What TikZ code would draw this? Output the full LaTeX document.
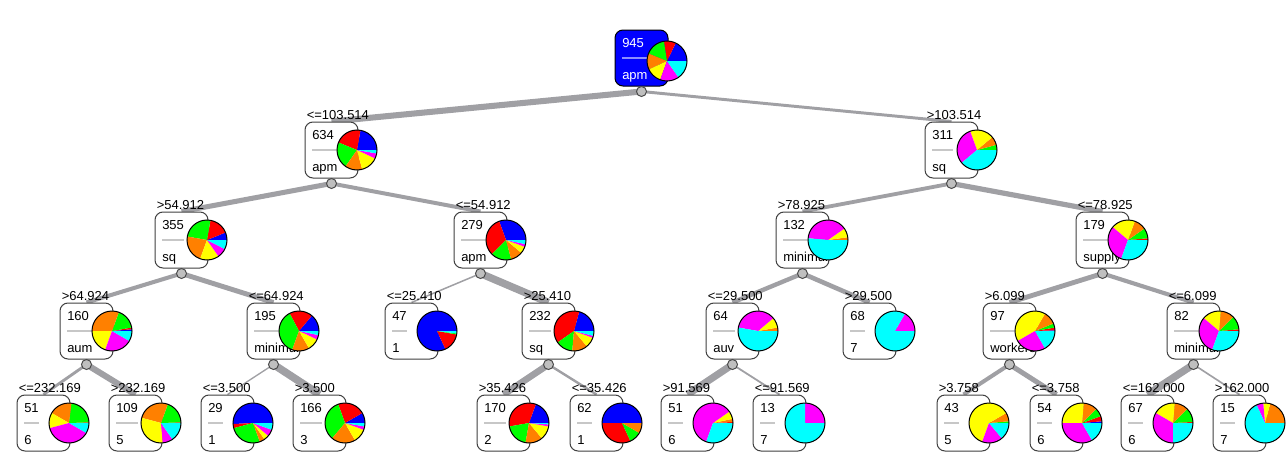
\documentclass[tikz,border=0pt]{standalone}
\usepackage{fontspec}
\setmainfont{Liberation Sans}
\usetikzlibrary{calc}
\pgfdeclarelayer{background}
\pgfsetlayers{background,main}
\definecolor{c1}{RGB}{0,0,255}
\definecolor{c2}{RGB}{255,0,0}
\definecolor{c3}{RGB}{0,255,0}
\definecolor{c4}{RGB}{255,128,0}
\definecolor{c5}{RGB}{255,255,0}
\definecolor{c6}{RGB}{255,0,255}
\definecolor{c7}{RGB}{0,255,255}
\definecolor{edgegray}{RGB}{160,160,164}
\tikzset{
 box/.style={draw=black!75, line width=0.75pt, rounded corners=6pt, fill=white, minimum width=39.75pt, minimum height=42pt, inner sep=0pt},
 rootbox/.style={box, fill=c1, draw=black},
 txt/.style={inner sep=0pt, font=\fontsize{9.75pt}{11pt}\selectfont, text=black, anchor=base west},
 sepline/.style={draw=black!22, line width=1.5pt},
 pieedge/.style={draw=black, line width=0.75pt},
 knot/.style={circle, draw=black!70, fill=black!25, line width=0.75pt, minimum size=7.5pt, inner sep=0pt},
 edgeline/.style={draw=edgegray}
}
\newcommand{\piedy}{28}
% #1 box style, #2 name, #3 left, #4 top, #5 count, #6 label, #7 pie
\newcommand{\tnode}[7][box]{%
 \node[#1] (#2) at ({#3+26.5},{-#4-28}) {};
 \begin{scope}
  \clip[rounded corners=6pt] (#2.south west) rectangle (#2.north east);
  \node[txt] (#2c) at ({#3+7},{-#4-17}) {#5};
  \node[txt] (#2l) at ({#3+7},{-#4-49}) {#6};
  \draw[sepline] let \p1=(#2c.east), \p2=(#2l.east), \p3=(#2.center) in (#2c.west |- #2.center) -- ({max(\x1,\x2)},\y3);
 \end{scope}
 \coordinate (#2p) at ({#3+52},{-#4-\piedy});
 \foreach \a/\b/\c in {#7} {\fill[\c] (#2p) -- ++(\a:15pt) arc[start angle=\a, end angle=\b, radius=15pt] -- cycle;}
 \draw[pieedge] (#2p) circle[radius=15pt];
}
\newcommand{\tknot}[1]{\node[knot] (#1k) at ([yshift=-3.75pt]#1.south) {};}
\newcommand{\tedge}[3]{\begin{pgfonlayer}{background}\draw[edgeline, line width=#3*6.75pt] (#1k.center) -- (#2.north);\end{pgfonlayer}}
\newcommand{\elab}[2]{\node[txt] (#1e) at ([xshift=1.5pt,yshift=1.5pt]#1.north west) {#2};}
\begin{document}
\begin{tikzpicture}[x=0.75pt,y=0.75pt]
\useasboundingbox (0,0) rectangle (1286,-471);
% level 0
\begin{scope}[txt/.append style={text=white}, sepline/.append style={draw=c1!45!white}]
\renewcommand{\piedy}{31}
\tnode[rootbox]{n945}{615}{30}{945}{apm}{0/64/c1,64/99/c2,99/158/c3,158/205/c4,205/250/c5,250/305/c6,305/360/c7}
\end{scope}
% level 1
\tnode{n634}{305}{122}{634}{apm}{0/80/c1,80/158/c2,158/235/c3,235/285/c4,285/335/c5,335/350/c6,350/360/c7}
\tnode{n311}{925}{122}{311}{sq}{0/15/c3,15/40/c4,40/110/c5,110/220/c6,220/360/c7}
% level 2
\tnode{n355}{155}{212}{355}{sq}{0/22/c1,22/80/c2,80/170/c3,170/250/c4,250/305/c5,305/333/c6,333/360/c7}
\tnode{n279}{454}{212}{279}{apm}{0/110/c1,110/225/c2,225/285/c3,285/320/c4,320/340/c5,340/348/c6,348/360/c7}
\tnode{n132}{776}{212}{132}{minimum}{0/8/c4,8/35/c5,35/175/c6,175/360/c7}
\tnode{n179}{1076}{212}{179}{supply}{0/5/c2,5/35/c3,35/70/c4,70/140/c5,140/250/c6,250/360/c7}
% level 3
\tnode{n160}{60}{303}{160}{aum}{0/5/c1,5/10/c2,10/70/c3,70/180/c4,180/250/c5,250/330/c6,330/360/c7}
\tnode{n195}{247}{303}{195}{minimum}{0/50/c1,50/118/c2,118/250/c3,250/300/c4,300/335/c5,335/348/c6,348/360/c7}
\tnode{n47}{385}{303}{47}{1}{0/295/c1,295/350/c2,350/353/c3,353/360/c7}
\tnode{n232}{522}{303}{232}{sq}{0/75/c1,75/215/c2,215/265/c3,265/310/c4,310/340/c5,340/346/c6,346/360/c7}
\tnode{n64}{706}{303}{64}{auv}{0/10/c4,10/40/c5,40/170/c6,170/360/c7}
\tnode{n68}{843}{303}{68}{7}{0/60/c6,60/360/c7}
\tnode{n97}{983}{303}{97}{workers}{0/2/c1,2/10/c2,10/22/c3,22/60/c4,60/210/c5,210/300/c6,300/360/c7}
\tnode{n82}{1167}{303}{82}{minimum}{0/5/c2,5/45/c3,45/85/c4,85/140/c5,140/250/c6,250/360/c7}
% level 4
\tnode{n51a}{17}{395}{51}{6}{0/2/c2,2/83/c3,83/150/c4,150/195/c5,195/330/c6,330/360/c7}
\tnode{n109}{109}{395}{109}{5}{0/2/c2,2/70/c3,70/165/c4,165/275/c5,275/305/c6,305/360/c7}
\tnode{n29}{201}{395}{29}{1}{0/183/c1,183/195/c2,195/290/c3,290/305/c4,305/320/c5,320/340/c6,340/360/c7}
\tnode{n166}{293}{395}{166}{3}{0/30/c1,30/110/c2,110/230/c3,230/300/c4,300/340/c5,340/350/c6,350/360/c7}
\tnode{n170}{477}{395}{170}{2}{0/70/c1,70/190/c2,190/260/c3,260/310/c4,310/350/c5,350/356/c6,356/360/c7}
\tnode{n62}{570}{395}{62}{1}{0/180/c1,180/295/c2,295/330/c3,330/360/c4}
\tnode{n51b}{661}{395}{51}{6}{0/3/c2,3/12/c4,12/35/c5,35/250/c6,250/360/c7}
\tnode{n13}{753}{395}{13}{7}{0/90/c6,90/360/c7}
\tnode{n43}{937}{395}{43}{5}{0/5/c3,5/30/c4,30/250/c5,250/310/c6,310/360/c7}
\tnode{n54}{1030}{395}{54}{6}{0/5/c1,5/20/c2,20/45/c3,45/85/c4,85/180/c5,180/300/c6,300/360/c7}
\tnode{n67}{1121}{395}{67}{6}{0/3/c2,3/45/c3,45/85/c4,85/150/c5,150/270/c6,270/360/c7}
\tnode{n15}{1213}{395}{15}{7}{0/75/c4,75/95/c5,95/115/c6,115/360/c7}
% knots
\foreach \n in {n945,n634,n311,n355,n279,n132,n179,n160,n195,n232,n64,n97,n82} {\tknot{\n}}
% edges
\tedge{n945}{n634}{0.671}\tedge{n945}{n311}{0.329}
\tedge{n634}{n355}{0.56}\tedge{n634}{n279}{0.44}
\tedge{n311}{n132}{0.424}\tedge{n311}{n179}{0.576}
\tedge{n355}{n160}{0.45}\tedge{n355}{n195}{0.55}
\tedge{n279}{n47}{0.168}\tedge{n279}{n232}{0.832}
\tedge{n132}{n64}{0.485}\tedge{n132}{n68}{0.515}
\tedge{n179}{n97}{0.54}\tedge{n179}{n82}{0.46}
\tedge{n160}{n51a}{0.32}\tedge{n160}{n109}{0.68}
\tedge{n195}{n29}{0.149}\tedge{n195}{n166}{0.851}
\tedge{n232}{n170}{0.733}\tedge{n232}{n62}{0.267}
\tedge{n64}{n51b}{0.8}\tedge{n64}{n13}{0.2}
\tedge{n97}{n43}{0.443}\tedge{n97}{n54}{0.557}
\tedge{n82}{n67}{0.817}\tedge{n82}{n15}{0.183}
% edge labels
\elab{n634}{<=103.514}\elab{n311}{>103.514}
\elab{n355}{>54.912}\elab{n279}{<=54.912}
\elab{n132}{>78.925}\elab{n179}{<=78.925}
\elab{n160}{>64.924}\elab{n195}{<=64.924}
\elab{n47}{<=25.410}\elab{n232}{>25.410}
\elab{n64}{<=29.500}\elab{n68}{>29.500}
\elab{n97}{>6.099}\elab{n82}{<=6.099}
\elab{n51a}{<=232.169}\elab{n109}{>232.169}
\elab{n29}{<=3.500}\elab{n166}{>3.500}
\elab{n170}{>35.426}\elab{n62}{<=35.426}
\elab{n51b}{>91.569}\elab{n13}{<=91.569}
\elab{n43}{>3.758}\elab{n54}{<=3.758}
\elab{n67}{<=162.000}\elab{n15}{>162.000}
\end{tikzpicture}
\end{document}
